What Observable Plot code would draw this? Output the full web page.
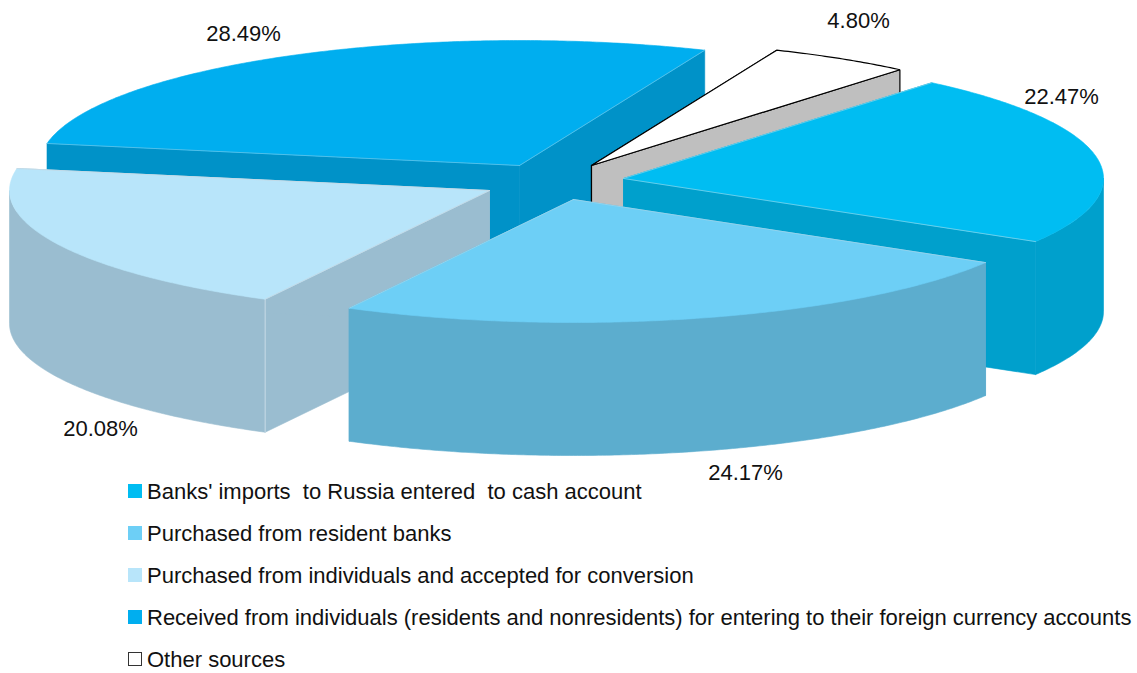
<!DOCTYPE html>
<html>
<head>
<meta charset="utf-8">
<script src="https://cdn.jsdelivr.net/npm/d3@7"></script>
<script src="https://cdn.jsdelivr.net/npm/@observablehq/plot@0.6"></script>
<style>
html,body{margin:0;padding:0;background:#fff;}
#chart svg{display:block;overflow:visible;}
#legend{margin-top:-13px;font-family:"Liberation Sans",Arial,sans-serif;font-size:22px;color:#111;}
.row{position:relative;height:42px;line-height:42px;white-space:pre;padding-left:147px;}
.sw{position:absolute;left:128px;top:13px;width:14px;height:14px;box-sizing:border-box;}
</style>
</head>
<body>
<div id="chart"></div>
<div id="legend"></div>
<script>
// Data, clockwise from the pie's start angle
const categories = ["Other sources","Banks' imports  to Russia entered  to cash account","Purchased from resident banks","Purchased from individuals and accepted for conversion","Received from individuals (residents and nonresidents) for entering to their foreign currency accounts"];
const shares = [4.80, 22.47, 24.17, 20.08, 28.49];
const shareLabels = ["4.80%","22.47%","24.17%","20.08%","28.49%"];
const legendOrder = [1,2,3,4,0];

// Styling
const topColors = ["#ffffff","#00BDF2","#6DCFF6","#B8E5FA","#00AEEF"];
const edgeColors = ["#BFBFBF","#00A0CC","#5CADCE","#9ABDD0","#0092C8"];
const outline = ["#000000",null,null,null,null];
const highlight = [null,"#7fd3ea","#9cd6ec","#c8dbe6","#62c4e8"];

// Layout of the exploded pseudo-3D pie
const W = 1137, H = 484;
const rx = 480, ryBack = 125, ryFront = 123, depth = 133, startDeg = 22.7;
const apexX = [591,623,573,489,519];
const apexY = [165,178,199,190,165];
const labelX = [858,1061,745,100,243];
const labelY = [20,96,472,428,33];
const drawOrder = [4,0,1,3,2];

const total = d3.sum(shares);
const toRad = d => d * Math.PI / 180;
let acc = startDeg;
const spans = shares.map(v => { const a = acc, b = acc + v / total * 360; acc = b; return [a, b]; });
function rim(i, deg, dz = 0) {
  const t = toRad(deg), c = Math.cos(t);
  return {x: apexX[i] + rx * Math.sin(t), y: apexY[i] - (c > 0 ? ryBack : ryFront) * c + dz};
}
function arc(i, a, b, dz = 0) {
  const n = Math.max(2, Math.ceil(Math.abs(b - a) / 0.5));
  return d3.range(n + 1).map(k => rim(i, a + (b - a) * k / n, dz));
}

const x = {type:"linear", domain:[0,W], range:[0,W], axis:null};
const y = {type:"linear", domain:[0,H], range:[0,H], axis:null};
const marks = [];
const poly = (pts, fill, stroke, sw) => marks.push(Plot.line([...pts, pts[0]], {x:"x", y:"y", fill, stroke: stroke || fill, strokeWidth: stroke ? sw : 0.6, strokeLinejoin:"miter"}));

for (const i of drawOrder) {
  const [a, b] = spans[i];
  const apex = {x: apexX[i], y: apexY[i]};
  const apexLow = {x: apexX[i], y: apexY[i] + depth};
  const ca = rim(i, a), cb = rim(i, b);
  // flat cut faces
  poly([apex, ca, rim(i, a, depth), apexLow], edgeColors[i], outline[i], 1.2);
  poly([apex, cb, rim(i, b, depth), apexLow], edgeColors[i], outline[i], 1.2);
  // curved outer wall, only its front half is seen
  const fa = Math.max(a, 90), fb = Math.min(b, 270);
  if (fb > fa) poly([...arc(i, fa, fb), ...arc(i, fb, fa, depth)], edgeColors[i]);
  // light seam on the corner where a cut face meets the curved wall
  if (i === 3) marks.push(Plot.line([ca, rim(i, a, depth)], {x:"x", y:"y", stroke:"#c8dbe6", strokeWidth:1}));
  // top face
  poly([apex, ...arc(i, a, b)], topColors[i], outline[i], 1.2);
  if (highlight[i]) {
    marks.push(Plot.line([apex, ca], {x:"x", y:"y", stroke:highlight[i], strokeWidth:0.8}));
    marks.push(Plot.line([apex, cb], {x:"x", y:"y", stroke:highlight[i], strokeWidth:0.8}));
  }
}
marks.push(Plot.text(shareLabels, {
  x: (d, i) => labelX[i], y: (d, i) => labelY[i], text: d => d,
  fontSize: 22, fontFamily: '"Liberation Sans",Arial,sans-serif', fill: "#111", textAnchor:"middle"
}));

const svg = Plot.plot({width:W, height:H, margin:0, x, y, style:{background:"transparent"}, marks});
document.getElementById("chart").append(svg);

const legend = d3.select("#legend");
for (const i of legendOrder) {
  const row = legend.append("div").attr("class","row");
  row.append("span").attr("class","sw")
    .style("background", topColors[i])
    .style("border", i === 0 ? "1.5px solid #333" : "none");
  row.append("span").text(categories[i]);
}
</script>
</body>
</html>
